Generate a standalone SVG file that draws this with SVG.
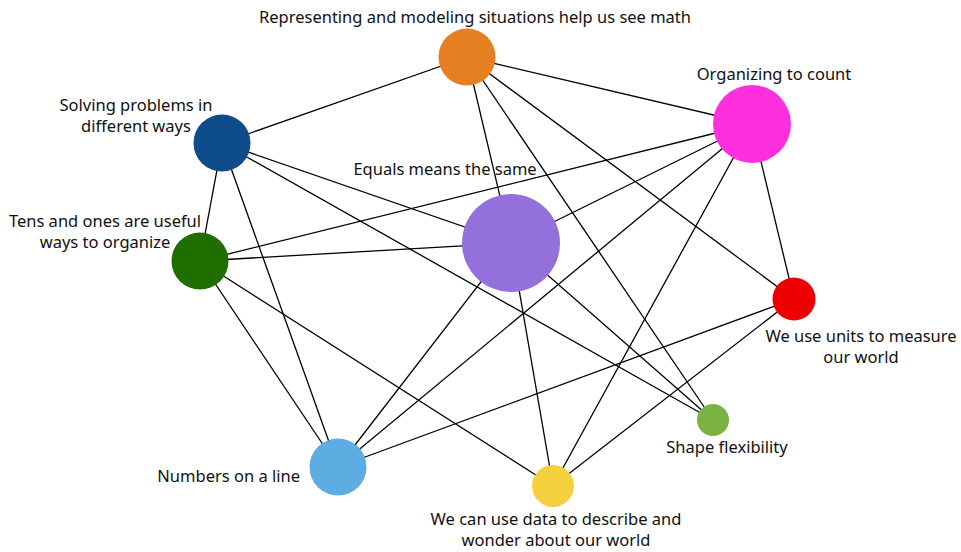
<svg xmlns="http://www.w3.org/2000/svg" width="961" height="552" viewBox="0 0 961 552">
<style>
.edge{stroke:#000;stroke-width:1.3;fill:none}
text{font-family:"Noto Sans","Liberation Sans",sans-serif;font-size:16.5px;fill:#111}
.m{text-anchor:middle}
.e{text-anchor:end}
</style>
<rect width="961" height="552" fill="#fff"/>
<g id="connectors">
<line class="edge" x1="467" y1="57" x2="222" y2="143"/>
<line class="edge" x1="467" y1="57" x2="752" y2="124"/>
<line class="edge" x1="467" y1="57" x2="511" y2="243"/>
<line class="edge" x1="467" y1="57" x2="713" y2="420"/>
<line class="edge" x1="467" y1="57" x2="794" y2="299"/>
<line class="edge" x1="752" y1="124" x2="200" y2="261"/>
<line class="edge" x1="752" y1="124" x2="511" y2="243"/>
<line class="edge" x1="752" y1="124" x2="338" y2="467"/>
<line class="edge" x1="752" y1="124" x2="553" y2="486"/>
<line class="edge" x1="752" y1="124" x2="794" y2="299"/>
<line class="edge" x1="222" y1="143" x2="200" y2="261"/>
<line class="edge" x1="222" y1="143" x2="511" y2="243"/>
<line class="edge" x1="222" y1="143" x2="713" y2="420"/>
<line class="edge" x1="222" y1="143" x2="338" y2="467"/>
<line class="edge" x1="200" y1="261" x2="511" y2="243"/>
<line class="edge" x1="200" y1="261" x2="338" y2="467"/>
<line class="edge" x1="200" y1="261" x2="553" y2="486"/>
<line class="edge" x1="511" y1="243" x2="338" y2="467"/>
<line class="edge" x1="511" y1="243" x2="553" y2="486"/>
<line class="edge" x1="511" y1="243" x2="713" y2="420"/>
<line class="edge" x1="794" y1="299" x2="338" y2="467"/>
<line class="edge" x1="794" y1="299" x2="553" y2="486"/>
</g>
<g id="n-representing">
<circle cx="467" cy="57" r="28.5" fill="#E67E22"/>
<text class="m" x="475" y="23">Representing and modeling situations help us see math</text>
</g>
<g id="n-organizing">
<circle cx="752" cy="124" r="39" fill="#FF2EDF"/>
<text class="m" x="774" y="80">Organizing to count</text>
</g>
<g id="n-solving">
<circle cx="222" cy="143" r="28.5" fill="#0E4D8A"/>
<text class="m" x="136" y="111">Solving problems in</text>
<text class="m" x="136" y="132">different ways</text>
</g>
<g id="n-equals">
<circle cx="511" cy="243" r="49" fill="#9370DB"/>
<text class="m" x="445" y="175">Equals means the same</text>
</g>
<g id="n-tens">
<circle cx="200" cy="261" r="28.5" fill="#1F6E00"/>
<text class="m" x="105" y="227">Tens and ones are useful</text>
<text class="m" x="105" y="248">ways to organize</text>
</g>
<g id="n-units">
<circle cx="794" cy="299" r="21.5" fill="#EE0000"/>
<text class="m" x="861" y="342">We use units to measure</text>
<text class="m" x="861" y="363">our world</text>
</g>
<g id="n-shape">
<circle cx="713" cy="420" r="16" fill="#7AB342"/>
<text class="m" x="727" y="453">Shape flexibility</text>
</g>
<g id="n-numbers">
<circle cx="338" cy="467" r="28.5" fill="#5DADE2"/>
<text class="e" x="300" y="482">Numbers on a line</text>
</g>
<g id="n-data">
<circle cx="553" cy="486" r="21" fill="#F4D03F"/>
<text class="m" x="556" y="525">We can use data to describe and</text>
<text class="m" x="556" y="546">wonder about our world</text>
</g>
</svg>
